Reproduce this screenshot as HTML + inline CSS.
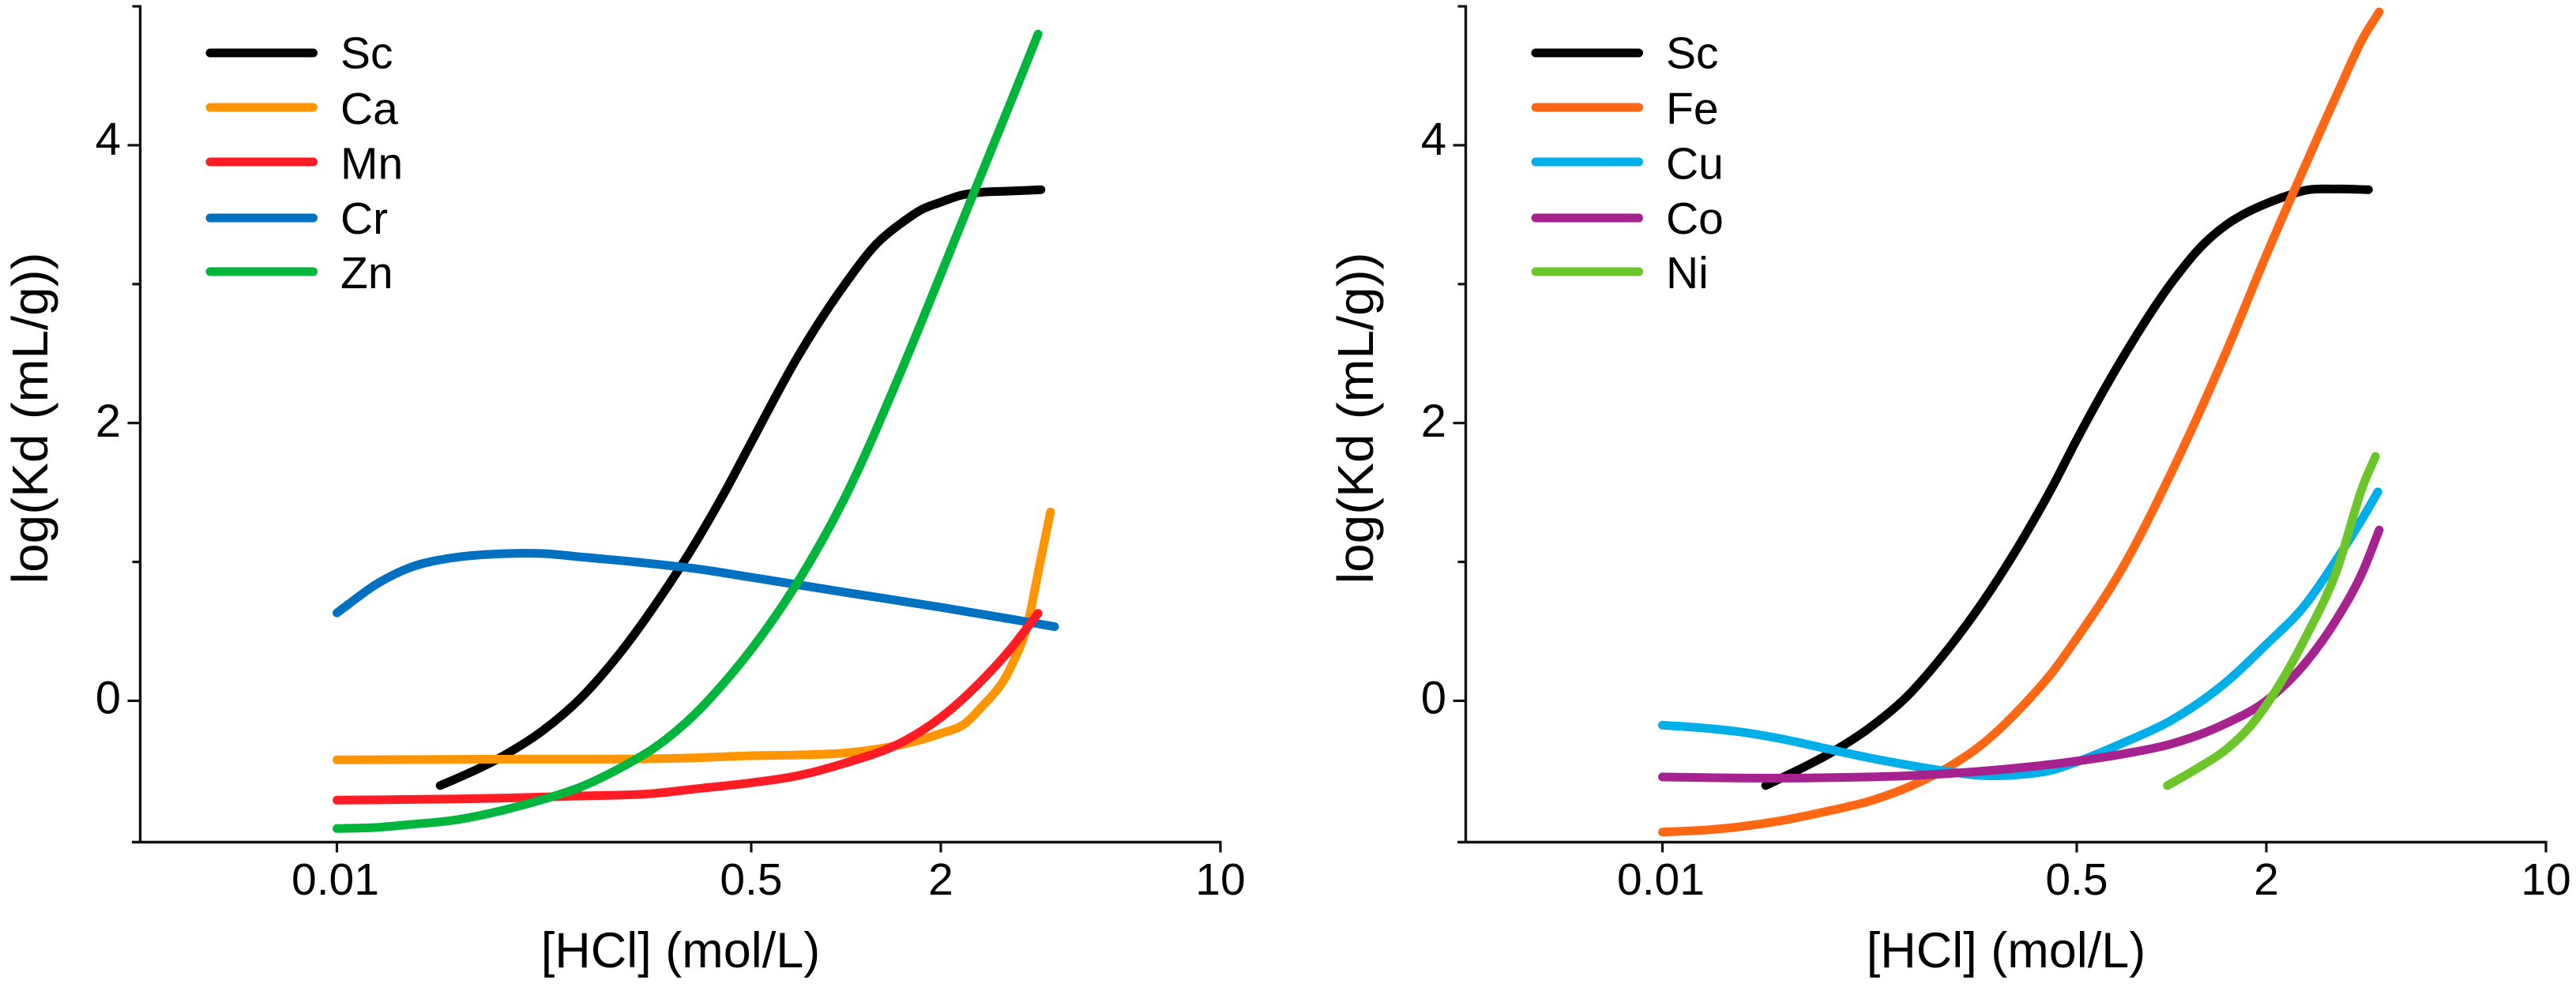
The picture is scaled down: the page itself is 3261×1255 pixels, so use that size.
<!DOCTYPE html>
<html lang="en">
<head>
<meta charset="utf-8">
<title>log(Kd) versus HCl concentration</title>
<style>
html,body{margin:0;padding:0;background:#fff;}
svg{display:block;}
text{font-family:"Liberation Sans",Arial,sans-serif;fill:#000;}
</style>
</head>
<body>
<svg id="chart" xmlns="http://www.w3.org/2000/svg" width="3261" height="1255" viewBox="0 0 3261 1255">
<rect width="3261" height="1255" fill="#fff"></rect>
</svg>
<script>
// X axis tick labels and Y axis ticks
const xTickValues = [0.01, 0.5, 2, 10];
const xTickLabels = ["0.01", "0.5", "2", "10"];
const yMajorTicks = [0, 2, 4];
const yMinorTicks = [1, 3, 5];

// Left panel series
const scLeftHcl = [0.0265,0.03,0.05,0.07,0.1,0.15,0.2,0.3,0.4,0.5,0.7,1,1.25,1.5,1.75,2,2.25,2.5,3,3.56];
const scLeftKd  = [-0.61,-0.57,-0.38,-0.213,0.02,0.378,0.68,1.157,1.54,1.86,2.47,3.01,3.29,3.44,3.54,3.59,3.64,3.66,3.67,3.68];
const caLeftHcl = [0.01,0.05,0.1,0.2,0.3,0.5,0.7,1,1.5,2,2.32,2.5,3,3.32,3.5,3.76];
const caLeftKd  = [-0.425,-0.42,-0.42,-0.417,-0.41,-0.395,-0.39,-0.375,-0.315,-0.235,-0.155,-0.06,0.25,0.59,0.92,1.36];
const mnLeftHcl = [0.01,0.03,0.05,0.1,0.2,0.3,0.5,0.7,1,1.5,2,2.5,3,3.5];
const mnLeftKd  = [-0.715,-0.707,-0.7,-0.685,-0.667,-0.633,-0.59,-0.54,-0.446,-0.3,-0.12,0.13,0.38,0.63];
const crLeftHcl = [0.01,0.015,0.02,0.03,0.05,0.07,0.1,0.15,0.2,0.3,0.5,1,2,3,3.85];
const crLeftKd  = [0.633,0.855,0.96,1.03,1.06,1.06,1.036,1.008,0.985,0.95,0.889,0.78,0.673,0.588,0.534];
const znLeftHcl = [0.01,0.015,0.02,0.03,0.05,0.07,0.1,0.15,0.2,0.3,0.4,0.5,0.7,1,1.5,2,2.5,3,3.5];
const znLeftKd  = [-0.92,-0.91,-0.89,-0.86,-0.78,-0.71,-0.62,-0.47,-0.34,-0.08,0.16,0.37,0.85,1.48,2.38,3.07,3.76,4.32,4.8];

// Right panel series
const scRightHcl = [0.0265,0.03,0.05,0.07,0.1,0.15,0.2,0.3,0.4,0.5,0.7,1,1.25,1.5,1.75,2,2.25,2.5,3,3.6];
const scRightKd  = [-0.61,-0.565,-0.366,-0.2,0.026,0.384,0.68,1.163,1.55,1.88,2.47,3.01,3.277,3.43,3.52,3.58,3.635,3.675,3.685,3.68];
const feRightHcl = [0.01,0.015,0.02,0.03,0.05,0.07,0.1,0.15,0.2,0.3,0.4,0.5,0.7,1,1.5,2,2.5,3,3.5,3.83];
const feRightKd  = [-0.945,-0.93,-0.91,-0.866,-0.786,-0.724,-0.627,-0.474,-0.327,-0.037,0.213,0.45,0.96,1.646,2.527,3.21,3.852,4.364,4.779,4.96];
const cuRightHcl = [0.01,0.015,0.02,0.03,0.05,0.07,0.1,0.15,0.2,0.3,0.4,0.5,0.7,1,1.5,2,2.5,3,3.5,3.8];
const cuRightKd  = [-0.175,-0.197,-0.22,-0.27,-0.355,-0.41,-0.46,-0.51,-0.537,-0.53,-0.497,-0.44,-0.304,-0.139,0.139,0.406,0.69,1.02,1.327,1.504];
const coRightHcl = [0.01,0.02,0.05,0.1,0.2,0.3,0.5,0.7,1,1.5,2,2.5,3,3.5,3.83];
const coRightKd  = [-0.548,-0.556,-0.553,-0.54,-0.508,-0.48,-0.434,-0.383,-0.31,-0.16,0,0.27,0.59,0.945,1.23];
const niRightHcl = [0.97,1.2,1.5,1.8,2,2.5,3,3.5,3.75];
const niRightKd  = [-0.61,-0.49,-0.345,-0.17,-0.03,0.45,0.94,1.56,1.76];

const leftNames = ["Sc","Ca","Mn","Cr","Zn"];
const rightNames = ["Sc","Fe","Cu","Co","Ni"];

const svg = document.getElementById('chart');
const NS = 'http://www.w3.org/2000/svg';

// Axis functions (the printed x axis is a non-uniform log scale between its ticks)
function xScale(c, off) {
  const t = Math.log10(c);
  let px;
  if (c <= 0.5) px = 426.5 + 308.7 * (t + 2);
  else if (c <= 2) px = 951 + 398.6 * (t - Math.log10(0.5));
  else px = 1191 + 506.4 * (t - Math.log10(2));
  return px + off;
}
function yScale(v) { return 887.5 - 175.9 * v; }

// Cubic Hermite spline with non-uniform finite-difference tangents
function splinePath(pts) {
  const n = pts.length;
  const m = [];
  for (let i = 0; i < n; i++) {
    if (i === 0) {
      m.push((pts[1][1] - pts[0][1]) / (pts[1][0] - pts[0][0]));
    } else if (i === n - 1) {
      m.push((pts[n - 1][1] - pts[n - 2][1]) / (pts[n - 1][0] - pts[n - 2][0]));
    } else {
      const h0 = pts[i][0] - pts[i - 1][0], h1 = pts[i + 1][0] - pts[i][0];
      const d0 = (pts[i][1] - pts[i - 1][1]) / h0, d1 = (pts[i + 1][1] - pts[i][1]) / h1;
      m.push((d0 * h1 + d1 * h0) / (h0 + h1));
    }
  }
  let d = 'M' + pts[0][0].toFixed(1) + ' ' + pts[0][1].toFixed(1);
  for (let i = 0; i < n - 1; i++) {
    const h = (pts[i + 1][0] - pts[i][0]) / 3;
    d += 'C' + (pts[i][0] + h).toFixed(1) + ' ' + (pts[i][1] + m[i] * h).toFixed(1) + ' ' +
         (pts[i + 1][0] - h).toFixed(1) + ' ' + (pts[i + 1][1] - m[i + 1] * h).toFixed(1) + ' ' +
         pts[i + 1][0].toFixed(1) + ' ' + pts[i + 1][1].toFixed(1);
  }
  return d;
}

function axisLine(parent, x1, y1, x2, y2, w) {
  const el = document.createElementNS(NS, 'line');
  el.setAttribute('x1', x1);
  el.setAttribute('y1', y1);
  el.setAttribute('x2', x2);
  el.setAttribute('y2', y2);
  el.setAttribute('stroke', '#111');
  el.setAttribute('stroke-width', w);
  parent.appendChild(el);
  return el;
}

function addText(parent, str, x, y, size, anchor) {
  const el = document.createElementNS(NS, 'text');
  el.setAttribute('x', x);
  el.setAttribute('y', y);
  el.setAttribute('font-size', size);
  el.setAttribute('text-anchor', anchor);
  el.textContent = str;
  parent.appendChild(el);
  return el;
}

function drawPanel(panelName, off, legendNames, legendColors, seriesList) {
  const g = document.createElementNS(NS, 'g');
  
  
  svg.appendChild(g);

  const axisX = 177.5 + off, baseY = 1066.5;

  const yAxis = axisLine(g, axisX, yScale(5) - 1.5, axisX, baseY + 1.5, 3.4);
  
  

  const xAxis = axisLine(g, 167 + off, baseY, xScale(10, off) + 1.5, baseY, 3.6);
  
  

  yMajorTicks.forEach(function (v) {
    const t = axisLine(g, axisX - 16, yScale(v), axisX, yScale(v), 3.2);
    
    
    const dy = v === 4 ? 12 : (v === 2 ? 17.5 : 16);
    const lab = addText(g, String(v), 153 + off, yScale(v) + dy, 58, 'end');
    
    
  });
  yMinorTicks.forEach(function (v) {
    const t = axisLine(g, axisX - 10, yScale(v), axisX, yScale(v), 3.2);
    
    
  });
  xTickValues.forEach(function (c, i) {
    const px = xScale(c, off);
    const t = axisLine(g, px, baseY, px, baseY + 13, 3.2);
    
    
    const lab = addText(g, xTickLabels[i], px - (i === 0 ? 2 : 0), 1133, 57, 'middle');
    
    
  });

  const xTitle = addText(g, '[HCl] (mol/L)', 861.5 + off, 1225, 63, 'middle');
  
  

  const yTitle = addText(g, 'log(Kd (mL/g))', 0, 0, 64, 'start');
  yTitle.setAttribute('transform', 'translate(' + (60 + off) + ' 739.5) rotate(-90)');
  yTitle.setAttribute('textLength', '420');
  yTitle.setAttribute('lengthAdjust', 'spacingAndGlyphs');
  
  

  seriesList.forEach(function (s) {
    const pts = s.hcl.map(function (c, i) { return [xScale(c, off), yScale(s.kd[i])]; });
    const p = document.createElementNS(NS, 'path');
    p.setAttribute('d', splinePath(pts));
    p.setAttribute('fill', 'none');
    p.setAttribute('stroke', s.color);
    p.setAttribute('stroke-width', 11);
    p.setAttribute('stroke-linecap', 'round');
    p.setAttribute('stroke-linejoin', 'round');
    
    
    g.appendChild(p);
  });

  const legendLineY = [67, 136, 205, 276, 344];
  const legendTextY = [86.5, 157, 226.5, 296, 365];
  legendNames.forEach(function (n, i) {
    const item = document.createElementNS(NS, 'g');
    
    
    g.appendChild(item);
    const l = document.createElementNS(NS, 'line');
    l.setAttribute('x1', 266 + off);
    l.setAttribute('y1', legendLineY[i]);
    l.setAttribute('x2', 396.5 + off);
    l.setAttribute('y2', legendLineY[i]);
    l.setAttribute('stroke', legendColors[i]);
    l.setAttribute('stroke-width', 11);
    l.setAttribute('stroke-linecap', 'round');
    
    
    item.appendChild(l);
    const t = addText(item, n, 431 + off, legendTextY[i], 57, 'start');
    
    
  });
}

drawPanel('left-panel', 0, leftNames, ['#000000','#ff9500','#ff1c24','#0070c0','#00b53c'], [
  {name:'series-sc', hcl:scLeftHcl, kd:scLeftKd, color:'#000000'},
  {name:'series-ca', hcl:caLeftHcl, kd:caLeftKd, color:'#ff9500'},
  {name:'series-cr', hcl:crLeftHcl, kd:crLeftKd, color:'#0070c0'},
  {name:'series-mn', hcl:mnLeftHcl, kd:mnLeftKd, color:'#ff1c24'},
  {name:'series-zn', hcl:znLeftHcl, kd:znLeftKd, color:'#00b53c'}
]);
drawPanel('right-panel', 1678, rightNames, ['#000000','#ff6715','#00aee8','#a6228f','#6cc62a'], [
  {name:'series-sc', hcl:scRightHcl, kd:scRightKd, color:'#000000'},
  {name:'series-fe', hcl:feRightHcl, kd:feRightKd, color:'#ff6715'},
  {name:'series-cu', hcl:cuRightHcl, kd:cuRightKd, color:'#00aee8'},
  {name:'series-co', hcl:coRightHcl, kd:coRightKd, color:'#a6228f'},
  {name:'series-ni', hcl:niRightHcl, kd:niRightKd, color:'#6cc62a'}
]);
</script>
</body>
</html>
